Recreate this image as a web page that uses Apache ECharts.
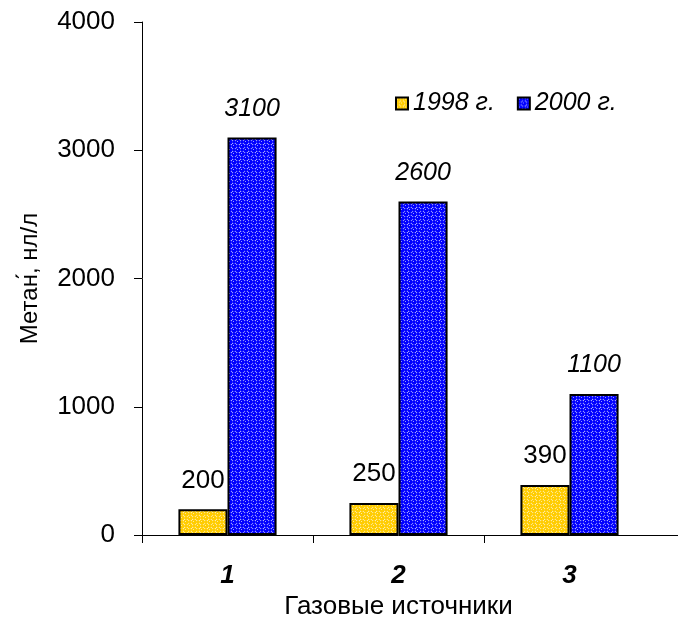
<!DOCTYPE html>
<html><head><meta charset="utf-8">
<script src="https://cdn.jsdelivr.net/npm/echarts@6/dist/echarts.min.js"></script>
<style>html,body{margin:0;padding:0;background:#fff}#c{width:678px;height:617px}</style>
</head><body><div id="c"></div>
<script>
const categories = ['1', '2', '3'];
const series1998 = [200, 250, 390];
const series2000 = [3100, 2600, 1100];
const seriesNames = ['1998 г.', '2000 г.'];
const yTicks = [0, 1000, 2000, 3000, 4000];

function pattern(base) {
  const c = document.createElement('canvas');
  c.width = 8; c.height = 8;
  const g = c.getContext('2d');
  g.fillStyle = '#ffffff';
  g.fillRect(0, 0, 8, 8);
  g.fillStyle = base;
  g.beginPath(); g.arc(2, 2, 2.5, 0, Math.PI * 2); g.fill();
  g.beginPath(); g.arc(6, 6, 2.5, 0, Math.PI * 2); g.fill();
  g.beginPath(); g.arc(6, 2, 2.0, 0, Math.PI * 2); g.fill();
  g.beginPath(); g.arc(2, 6, 2.0, 0, Math.PI * 2); g.fill();
  g.fillStyle = 'rgba(255,255,255,0.6)';
  g.fillRect(1, 1, 1, 1);
  g.fillRect(5, 5, 1, 1);
  return c;
}
const yellowPat = { image: pattern('#FFCC00'), repeat: 'repeat' };
const bluePat = { image: pattern('#0000FF'), repeat: 'repeat' };

const font = '"Liberation Sans", Arial, sans-serif';
const chart = echarts.init(document.getElementById('c'), null, { renderer: 'canvas' });
chart.setOption({
  animation: false,
  grid: { left: 142, right: 23, top: 22, bottom: 82, containLabel: false, outerBoundsMode: 'none' },
  legend: {
    left: 390, top: 86, itemWidth: 12, itemHeight: 12, itemGap: 22,
    icon: 'rect',
    textStyle: { fontFamily: font, fontSize: 25, fontStyle: 'italic', color: '#000' },
    data: seriesNames
  },
  xAxis: {
    type: 'category', data: categories,
    axisLine: { lineStyle: { color: '#000', width: 1 } },
    axisTick: { show: true, length: 8, lineStyle: { color: '#000' } },
    axisLabel: { fontFamily: font, fontSize: 26, fontWeight: 'bold', fontStyle: 'italic', color: '#000', margin: 28 },
    name: 'Газовые источники', nameLocation: 'middle', nameGap: 58,
    nameTextStyle: { fontFamily: font, fontSize: 26, color: '#000' }
  },
  yAxis: {
    type: 'value', min: yTicks[0], max: yTicks[yTicks.length - 1], interval: 1000,
    axisLine: { show: true, lineStyle: { color: '#000', width: 1 } },
    axisTick: { show: true, length: 8, lineStyle: { color: '#000' } },
    splitLine: { show: false },
    axisLabel: { fontFamily: font, fontSize: 26, color: '#000', margin: 27, formatter: v => String(v) },
    name: 'Метан́, нл/л', nameLocation: 'middle', nameGap: 100, nameRotate: 90,
    nameTextStyle: { fontFamily: font, fontSize: 24, color: '#000' }
  },
  series: [
    {
      name: seriesNames[0], type: 'bar', data: series1998,
      barWidth: '28.7%', barGap: '0%',
      itemStyle: { color: yellowPat, borderColor: '#000', borderWidth: 2 },
      label: { show: true, position: 'top', distance: 16, fontFamily: font, fontSize: 26, color: '#000' }
    },
    {
      name: seriesNames[1], type: 'bar', data: series2000,
      barWidth: '28.7%', barGap: '0%',
      itemStyle: { color: bluePat, borderColor: '#000', borderWidth: 2 },
      label: { show: true, position: 'top', distance: 16, fontFamily: font, fontSize: 25, fontStyle: 'italic', color: '#000' }
    }
  ],
  graphic: [
    { type: 'rect', z: 100, shape: { x: 653, y: 536, width: 6, height: 12 }, style: { fill: '#fff' } },
    { type: 'line', z: 101, shape: { x1: 653, y1: 535.5, x2: 678, y2: 535.5 }, style: { stroke: '#000', lineWidth: 1 } }
  ]
});
</script></body></html>
